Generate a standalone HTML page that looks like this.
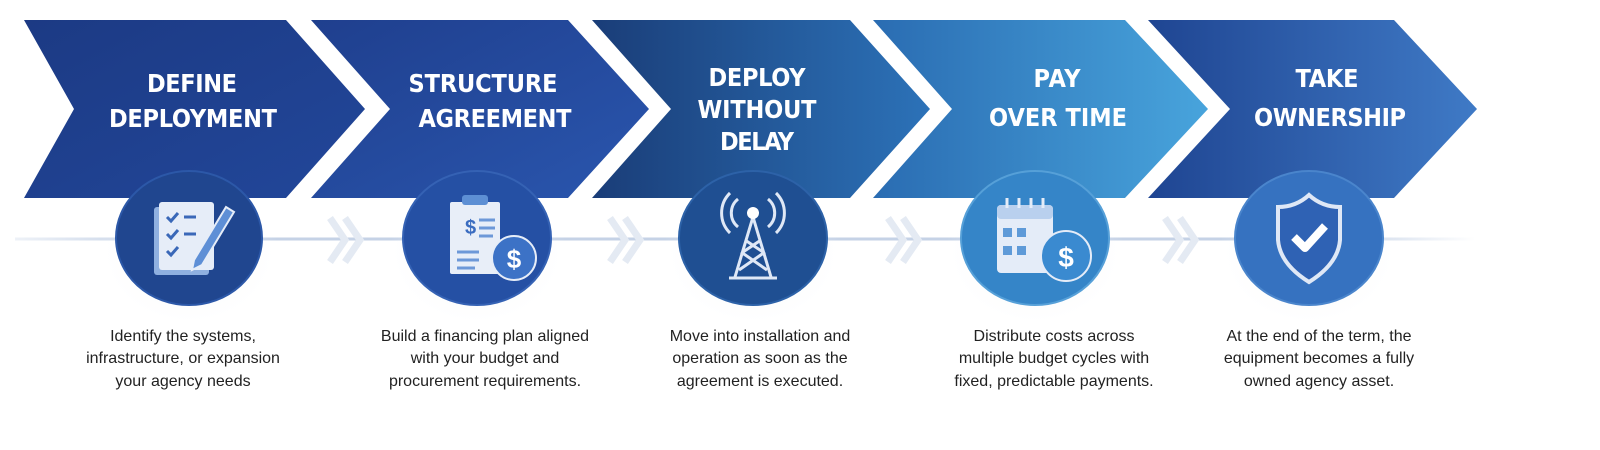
<!DOCTYPE html>
<html><head><meta charset="utf-8"><style>
html,body{margin:0;padding:0;background:#fff;}
svg{display:block;}
.t{font-family:"Liberation Sans Narrow","DejaVu Sans Condensed","Liberation Sans",sans-serif;font-weight:bold;font-size:25px;fill:#fff;text-anchor:middle;}
.d{font-family:"Liberation Sans",sans-serif;font-size:16px;fill:#222;text-anchor:middle;}
</style></head><body>
<svg width="1600" height="450" viewBox="0 0 1600 450" xmlns="http://www.w3.org/2000/svg">
<defs>
<linearGradient id="g1" x1="0" y1="0" x2="1" y2="1"><stop offset="0" stop-color="#1c3a84"/><stop offset="1" stop-color="#22479a"/></linearGradient>
<linearGradient id="g2" x1="0" y1="0" x2="1" y2="1"><stop offset="0" stop-color="#1f3f8e"/><stop offset="1" stop-color="#2a56ae"/></linearGradient>
<linearGradient id="g3" x1="0" y1="0" x2="1" y2="0"><stop offset="0" stop-color="#1a3d78"/><stop offset="1" stop-color="#2c72b8"/></linearGradient>
<linearGradient id="g4" x1="0" y1="0" x2="1" y2="0"><stop offset="0" stop-color="#2a6cb2"/><stop offset="1" stop-color="#48a4dc"/></linearGradient>
<linearGradient id="g5" x1="0" y1="0" x2="1" y2="0"><stop offset="0" stop-color="#1f4592"/><stop offset="1" stop-color="#3f7ac6"/></linearGradient>
<linearGradient id="ln" gradientUnits="userSpaceOnUse" x1="15" y1="0" x2="1475" y2="0"><stop offset="0" stop-color="#c5d2e6" stop-opacity="0.3"/><stop offset="0.1" stop-color="#c5d2e6"/><stop offset="0.9" stop-color="#c5d2e6"/><stop offset="1" stop-color="#c5d2e6" stop-opacity="0"/></linearGradient>
<radialGradient id="sh" cx="0.5" cy="0.5" r="0.5"><stop offset="0" stop-color="#c9d4e6" stop-opacity="0.6"/><stop offset="1" stop-color="#fff" stop-opacity="0"/></radialGradient>
</defs>
<rect x="15" y="237.5" width="1460" height="3" fill="url(#ln)"/>
<!-- chevrons -->
<polygon points="24,20 286,20 365,109 286,198 24,198 74,109" fill="url(#g1)"/>
<polygon points="311,20 568,20 649,109 568,198 311,198 390,109" fill="url(#g2)"/>
<polygon points="592,20 850,20 930,109 850,198 592,198 671,109" fill="url(#g3)"/>
<polygon points="873,20 1125,20 1208,109 1125,198 873,198 952,109" fill="url(#g4)"/>
<polygon points="1148,20 1394,20 1477,109 1394,198 1148,198 1230,109" fill="url(#g5)"/>
<text class="t" x="192" y="92" textLength="90" lengthAdjust="spacing">DEFINE</text>
<text class="t" x="193" y="127" textLength="168" lengthAdjust="spacing">DEPLOYMENT</text>
<text class="t" x="483" y="92" textLength="149" lengthAdjust="spacing">STRUCTURE</text>
<text class="t" x="495" y="127" textLength="153" lengthAdjust="spacing">AGREEMENT</text>
<text class="t" x="757" y="86" textLength="97" lengthAdjust="spacing">DEPLOY</text>
<text class="t" x="757" y="118" textLength="119" lengthAdjust="spacing">WITHOUT</text>
<text class="t" x="757" y="150" textLength="74" lengthAdjust="spacing">DELAY</text>
<text class="t" x="1057" y="87" textLength="47" lengthAdjust="spacing">PAY</text>
<text class="t" x="1058" y="126" textLength="138" lengthAdjust="spacing">OVER TIME</text>
<text class="t" x="1327" y="87" textLength="63" lengthAdjust="spacing">TAKE</text>
<text class="t" x="1330" y="126" textLength="152" lengthAdjust="spacing">OWNERSHIP</text>
<!-- double chevrons -->
<g fill="none" stroke="#e4eaf3" stroke-width="7">
<path d="M330,218 L345,240 L330,262 M345,218 L360,240 L345,262"/>
<path d="M610,218 L625,240 L610,262 M625,218 L640,240 L625,262"/>
<path d="M888,218 L903,240 L888,262 M903,218 L918,240 L903,262"/>
<path d="M1165,218 L1180,240 L1165,262 M1180,218 L1195,240 L1180,262"/>
</g>
<!-- circles -->
<ellipse cx="189" cy="252" rx="90" ry="75" fill="url(#sh)"/>
<ellipse cx="189" cy="238" rx="73" ry="67" fill="#20468f" stroke="#2c58a8" stroke-width="2"/>
<ellipse cx="477" cy="252" rx="90" ry="75" fill="url(#sh)"/>
<ellipse cx="477" cy="238" rx="74" ry="67" fill="#2550a4" stroke="#3562b4" stroke-width="2"/>
<ellipse cx="753" cy="252" rx="90" ry="75" fill="url(#sh)"/>
<ellipse cx="753" cy="238" rx="74" ry="67" fill="#1f4f92" stroke="#2d62a8" stroke-width="2"/>
<ellipse cx="1035" cy="252" rx="90" ry="75" fill="url(#sh)"/>
<ellipse cx="1035" cy="238" rx="74" ry="67" fill="#3585c8" stroke="#56a0d8" stroke-width="2"/>
<ellipse cx="1309" cy="252" rx="90" ry="75" fill="url(#sh)"/>
<ellipse cx="1309" cy="238" rx="74" ry="67" fill="#3672c0" stroke="#4a85cc" stroke-width="2"/>
<!-- icon 1 -->
<g transform="translate(4,2)">
<rect x="150" y="205" width="55" height="68" rx="3" fill="#8fb0e0"/>
<rect x="155" y="200" width="55" height="68" rx="3" fill="#e6edf8"/>
<g stroke="#3a68b8" stroke-width="3" fill="none"><path d="M163,215 l4,4 l7,-8 M180,215 h12 M163,232 l4,4 l7,-8 M180,232 h12 M163,249 l4,4 l7,-8"/></g>
<path d="M190,258 L222,205 L230,210 L198,263 L188,268 Z" fill="#5e8fd6" stroke="#e6edf8" stroke-width="2"/>
</g>
<!-- icon 2 -->
<g transform="translate(17,2)">
<rect x="433" y="200" width="50" height="72" rx="2" fill="#e8eef8"/>
<rect x="445" y="193" width="26" height="10" rx="3" fill="#5d8fd4"/>
<text x="448" y="232" font-family="Liberation Sans" font-weight="bold" font-size="20" fill="#3a6cc0">$</text>
<g stroke="#6d98d8" stroke-width="3"><path d="M462,218h16M462,226h16M462,234h14M440,250h22M440,258h22M440,266h18"/></g>
<circle cx="497" cy="256" r="22" fill="#3c72c6" stroke="#e6edf8" stroke-width="2"/>
<text x="497" y="266" font-family="Liberation Sans" font-weight="bold" font-size="26" fill="#fff" text-anchor="middle">$</text>
</g>
<!-- icon 3 -->
<g transform="translate(17,2)">
<g stroke="#dfe8f6" stroke-width="3" fill="none">
<path d="M721,197 a18,18 0 0 0 0,28 M751,197 a18,18 0 0 1 0,28 M713,191 a28,28 0 0 0 0,40 M759,191 a28,28 0 0 1 0,40"/>
<path d="M736,215 L718,275 M736,215 L754,275 M724,250 L750,268 M748,250 L722,268 M728,238 L746,250 M744,238 L726,250 M712,276 H760"/>
</g>
<circle cx="736" cy="211" r="6" fill="#fff"/>
</g>
<!-- icon 4 -->
<g transform="translate(25,2)">
<rect x="972" y="203" width="56" height="68" rx="4" fill="#e4ecf8"/>
<rect x="972" y="203" width="56" height="14" rx="4" fill="#b9d0ee"/>
<g fill="#5e9ad8"><rect x="978" y="226" width="9" height="9"/><rect x="992" y="226" width="9" height="9"/><rect x="978" y="244" width="9" height="9"/><rect x="992" y="244" width="9" height="9"/></g>
<g stroke="#e4ecf8" stroke-width="3"><path d="M982,196v10M994,196v10M1006,196v10M1018,196v10"/></g>
<circle cx="1041" cy="254" r="25" fill="#3a8ad0" stroke="#e4ecf8" stroke-width="2"/>
<text x="1041" y="265" font-family="Liberation Sans" font-weight="bold" font-size="28" fill="#fff" text-anchor="middle">$</text>
</g>
<!-- icon 5 -->
<g transform="translate(26,2)">
<path d="M1283,193 Q1296,205 1314,205 L1314,238 Q1312,262 1283,280 Q1254,262 1252,238 L1252,205 Q1270,205 1283,193 Z" fill="#2f62b4" stroke="#dfe8f6" stroke-width="4"/>
<path d="M1268,235 l11,11 l20,-22" fill="none" stroke="#fff" stroke-width="8" stroke-linejoin="round"/>
</g>
<!-- descriptions -->
<text class="d" x="183" y="341">Identify the systems,</text><text class="d" x="183" y="363">infrastructure, or expansion</text><text class="d" x="183" y="386">your agency needs</text>
<text class="d" x="485" y="341">Build a financing plan aligned</text><text class="d" x="485" y="363">with your budget and</text><text class="d" x="485" y="386">procurement requirements.</text>
<text class="d" x="760" y="341">Move into installation and</text><text class="d" x="760" y="363">operation as soon as the</text><text class="d" x="760" y="386">agreement is executed.</text>
<text class="d" x="1054" y="341">Distribute costs across</text><text class="d" x="1054" y="363">multiple budget cycles with</text><text class="d" x="1054" y="386">fixed, predictable payments.</text>
<text class="d" x="1319" y="341">At the end of the term, the</text><text class="d" x="1319" y="363">equipment becomes a fully</text><text class="d" x="1319" y="386">owned agency asset.</text>
</svg>
</body></html>
